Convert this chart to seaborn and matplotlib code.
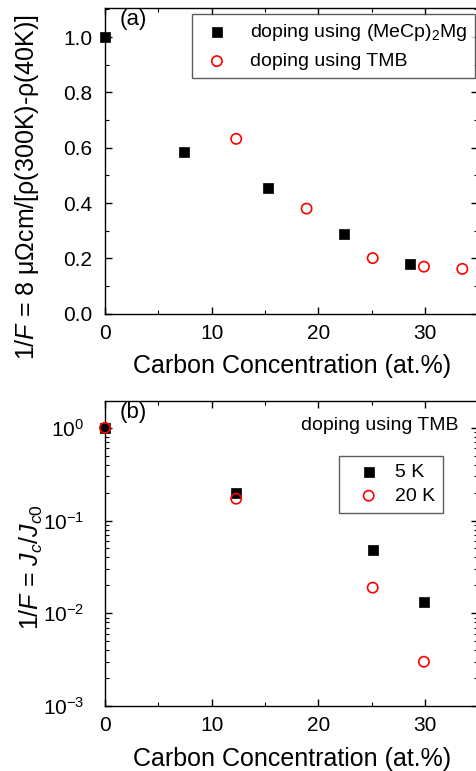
import numpy as np
import pandas as pd
import matplotlib
matplotlib.use("Agg")
import matplotlib.pyplot as plt
from matplotlib.ticker import MultipleLocator, LogLocator, NullFormatter
import seaborn as sns

# ---- data ----
mg_c = [0.0, 7.4, 15.3, 22.4, 28.6]
mg_rho = [1.0, 0.586, 0.456, 0.288, 0.179]
tmb_c = [12.3, 18.9, 25.1, 29.9, 33.5]
tmb_rho = [0.632, 0.38, 0.201, 0.17, 0.162]

jc_c = [0.0, 12.3, 25.1, 29.9]
jc_5k = [1.0, 0.196, 0.0485, 0.0133]
jc_20k = [1.0, 0.172, 0.0189, 0.0030]

sns.set_style("ticks")
plt.rcParams["font.family"] = ["Liberation Sans", "DejaVu Sans"]
plt.rcParams["mathtext.fontset"] = "custom"
plt.rcParams["mathtext.rm"] = "Liberation Sans"
plt.rcParams["mathtext.it"] = "Liberation Sans:italic"
plt.rcParams["mathtext.bf"] = "Liberation Sans:bold"
plt.rcParams["axes.unicode_minus"] = False
for k in ["text.color", "axes.labelcolor", "xtick.color", "ytick.color", "axes.edgecolor"]:
    plt.rcParams[k] = "black"

fig = plt.figure(figsize=(4.76, 7.71), dpi=100)
W, H = 476.0, 771.0
left = 105 / W
width = 373.3 / W
ax1 = fig.add_axes([left, 1 - 313.7 / H, width, 305.7 / H])
ax2 = fig.add_axes([left, 1 - 706.0 / H, width, 305.3 / H])

df_mg = pd.DataFrame({"c": mg_c, "v": mg_rho})
df_tmb = pd.DataFrame({"c": tmb_c, "v": tmb_rho})
df_jc = pd.DataFrame({"c": jc_c, "k5": jc_5k, "k20": jc_20k})

sq_kw = dict(marker="s", s=55, color="black", edgecolor="black", linewidth=0.5)
ci_kw = dict(marker="o", s=55, facecolors="none", edgecolor="red", linewidth=1.2)

# ---- panel (a) ----
sns.scatterplot(data=df_mg, x="c", y="v", ax=ax1, label=r"doping using (MeCp)$_2$Mg",
                clip_on=False, zorder=3, **sq_kw)
sns.scatterplot(data=df_tmb, x="c", y="v", ax=ax1, label="doping using TMB",
                clip_on=False, zorder=3, **ci_kw)
ax1.set_xlim(0, 35)
ax1.set_ylim(0, 1.105)
ax1.xaxis.set_major_locator(MultipleLocator(10))
ax1.xaxis.set_minor_locator(MultipleLocator(5))
ax1.yaxis.set_major_locator(MultipleLocator(0.2))
ax1.yaxis.set_minor_locator(MultipleLocator(0.1))
ax1.yaxis.set_major_formatter(matplotlib.ticker.FormatStrFormatter("%.1f"))
ax1.set_xlabel("Carbon Concentration (at.%)", fontsize=18, labelpad=8)
ax1.set_ylabel(r"1/$F$ = 8 μΩcm/[ρ(300K)-ρ(40K)]", fontsize=18)
ax1.yaxis.set_label_coords(-0.172, 0.413)
ax1.text(0.04, 0.962, "(a)", transform=ax1.transAxes, fontsize=16, ha="left", va="center")
leg1 = ax1.legend(loc="upper right", bbox_to_anchor=(0.991, 0.980), borderaxespad=0,
                  fontsize=14, frameon=True, fancybox=False, edgecolor="#333333",
                  handletextpad=0.8, borderpad=0.4, labelspacing=0.5, handlelength=1.8)
leg1.get_frame().set_linewidth(1.0)

# ---- panel (b) ----
sns.scatterplot(data=df_jc, x="c", y="k5", ax=ax2, label="5 K", clip_on=False, zorder=3, **sq_kw)
sns.scatterplot(data=df_jc, x="c", y="k20", ax=ax2, label="20 K", clip_on=False, zorder=3, **ci_kw)
ax2.set_yscale("log")
ax2.set_xlim(0, 35)
ax2.set_ylim(1e-3, 1.96)
ax2.xaxis.set_major_locator(MultipleLocator(10))
ax2.xaxis.set_minor_locator(MultipleLocator(5))
ax2.yaxis.set_major_locator(LogLocator(base=10, numticks=10))
ax2.yaxis.set_minor_locator(LogLocator(base=10, subs=np.arange(2, 10), numticks=10))
ax2.yaxis.set_minor_formatter(NullFormatter())
ax2.set_xlabel("Carbon Concentration (at.%)", fontsize=18, labelpad=8)
ax2.set_ylabel(r"1/$F$ = $J_c$/$J_{c0}$", fontsize=18)
ax2.yaxis.set_label_coords(-0.16, 0.455)
ax2.text(0.04, 0.960, "(b)", transform=ax2.transAxes, fontsize=16, ha="left", va="center")
ax2.text(0.946, 0.920, "doping using TMB", transform=ax2.transAxes, fontsize=14,
         ha="right", va="center")
leg2 = ax2.legend(loc="upper right", bbox_to_anchor=(0.905, 0.819), borderaxespad=0,
                  fontsize=14, frameon=True, fancybox=False, edgecolor="#333333",
                  handletextpad=0.2, borderpad=0.4, labelspacing=0.3, handlelength=2.3)
leg2.get_frame().set_linewidth(1.0)

for ax in (ax1, ax2):
    for sp in ax.spines.values():
        sp.set_visible(True)
        sp.set_linewidth(1.0)
        sp.set_color("black")
    ax.tick_params(which="both", direction="in", top=True, right=True, colors="black")
    ax.tick_params(which="major", length=5, width=1.0)
    ax.tick_params(which="minor", length=3, width=0.8)
    ax.tick_params(axis="x", which="both", labelsize=15, pad=7.5)
ax1.tick_params(axis="y", which="both", labelsize=15, pad=9)
ax2.tick_params(axis="y", which="both", labelsize=15, pad=15)

fig.savefig("out.png", dpi=100)
